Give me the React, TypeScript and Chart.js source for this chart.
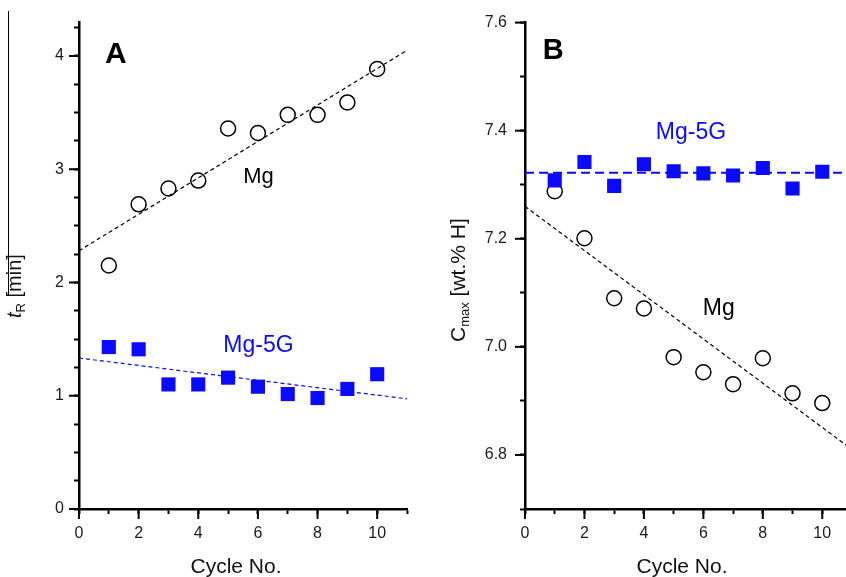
import React, { useEffect, useRef } from "react";
import { Chart, registerables } from "chart.js";
Chart.register(...registerables);

// ---------- data ----------
const cycles = [1, 2, 3, 4, 5, 6, 7, 8, 9, 10];
const tR_Mg = [2.15, 2.69, 2.83, 2.9, 3.36, 3.32, 3.48, 3.48, 3.59, 3.885];
const tR_Mg5G = [1.43, 1.41, 1.1, 1.1, 1.16, 1.08, 1.015, 0.98, 1.06, 1.19];
const cmax_Mg = [7.288, 7.201, 7.09, 7.071, 6.981, 6.953, 6.931, 6.979, 6.914, 6.896];
const cmax_Mg5G = [7.308, 7.342, 7.298, 7.338, 7.325, 7.321, 7.317, 7.331, 7.293, 7.324];
const fitX = [0, 11];
const fitA_Mg = [2.28, 4.05];
const fitA_Mg5G = [1.333, 0.973];
const fitB_Mg = [7.26, 6.81];
const fitB_Mg5G = [7.322, 7.322];
const xTickLabels = ["0", "2", "4", "6", "8", "10"];
const yTickLabelsA = ["0", "1", "2", "3", "4"];
const yTickLabelsB = ["6.8", "7.0", "7.2", "7.4", "7.6"];

const FONT = "'Liberation Sans', Arial, sans-serif";
const BLUE = "#0a0aff";
const H = 577;
const MINOR = 5;
const MAJOR = 10;

type Seg = { text: string; size: number; italic?: boolean; dy?: number };
type Ann = { text: string; x: number; y: number; size: number; bold?: boolean; color: string };

const pts = (xs: number[], ys: number[]) => xs.map((x, i) => ({ x, y: ys[i] }));

function textPlugin(anns: Ann[], title: { bx: number; sy: number; segs: Seg[] }, overline: boolean) {
  return {
    id: "texts",
    afterDraw(chart: any) {
      const { ctx, chartArea, scales } = chart;
      ctx.save();
      // longer major ticks
      ctx.strokeStyle = "#000";
      ctx.lineWidth = 2;
      for (const t of scales.x.ticks) {
        if (!t.label) continue;
        const px = scales.x.getPixelForValue(t.value);
        ctx.beginPath();
        ctx.moveTo(px, chartArea.bottom);
        ctx.lineTo(px, chartArea.bottom + MAJOR);
        ctx.stroke();
      }
      for (const t of scales.y.ticks) {
        if (!t.label) continue;
        const py = scales.y.getPixelForValue(t.value);
        ctx.beginPath();
        ctx.moveTo(chartArea.left, py);
        ctx.lineTo(chartArea.left - MAJOR, py);
        ctx.stroke();
      }
      // annotations
      for (const a of anns) {
        ctx.font = `${a.bold ? "bold " : ""}${a.size}px ${FONT}`;
        ctx.fillStyle = a.color;
        ctx.textAlign = "left";
        ctx.textBaseline = "alphabetic";
        ctx.fillText(a.text, scales.x.getPixelForValue(a.x), scales.y.getPixelForValue(a.y));
      }
      // x title
      ctx.font = `21px ${FONT}`;
      ctx.fillStyle = "#111";
      ctx.textAlign = "center";
      ctx.fillText("Cycle No.", chartArea.left + 157, 573);
      // y title rotated
      ctx.save();
      ctx.translate(title.bx, title.sy);
      ctx.rotate(-Math.PI / 2);
      ctx.textAlign = "left";
      let x = 0;
      for (const s of title.segs) {
        ctx.font = `${s.italic ? "italic " : ""}${s.size}px ${FONT}`;
        ctx.fillText(s.text, x, s.dy || 0);
        x += ctx.measureText(s.text).width;
      }
      ctx.restore();
      if (overline) {
        ctx.strokeStyle = "#000";
        ctx.lineWidth = 1;
        ctx.beginPath();
        ctx.moveTo(8.5, 11);
        ctx.lineTo(8.5, 296);
        ctx.stroke();
      }
      ctx.restore();
    },
  };
}

function makeConfig(p: {
  mg: number[];
  g5: number[];
  fitMg: number[];
  fitG5: number[];
  g5Dash: number[];
  g5Width: number;
  yMin: number;
  yMax: number;
  yStep: number;
  yLabels: string[];
  yWidth: number;
  yPad: number;
  anns: Ann[];
  title: { bx: number; sy: number; segs: Seg[] };
  overline: boolean;
}) {
  return {
    type: "scatter",
    data: {
      datasets: [
        {
          data: pts(cycles, p.g5),
          pointStyle: "rect",
          pointRadius: 10,
          backgroundColor: BLUE,
          borderColor: BLUE,
          borderWidth: 0,
          order: 0,
        },
        {
          data: pts(cycles, p.mg),
          pointStyle: "circle",
          pointRadius: 7.5,
          backgroundColor: "rgba(0,0,0,0)",
          borderColor: "#000",
          borderWidth: 1.5,
          order: 1,
        },
        {
          type: "line",
          data: pts(fitX, p.fitG5),
          borderColor: BLUE,
          borderWidth: p.g5Width,
          borderDash: p.g5Dash,
          pointRadius: 0,
          order: 2,
        },
        {
          type: "line",
          data: pts(fitX, p.fitMg),
          borderColor: "#000",
          borderWidth: 1.2,
          borderDash: [4, 3],
          pointRadius: 0,
          order: 3,
        },
      ],
    },
    options: {
      animation: false,
      responsive: false,
      layout: { padding: { left: 0, top: 22, right: 13, bottom: 0 } },
      plugins: { legend: { display: false }, tooltip: { enabled: false } },
      scales: {
        x: {
          type: "linear",
          min: 0,
          max: 11,
          afterFit: (s: any) => {
            s.height = H - 509;
          },
          ticks: {
            stepSize: 1,
            includeBounds: false,
            autoSkip: false,
            maxRotation: 0,
            padding: 10,
            color: "#1a1a1a",
            font: { family: FONT, size: 16 },
            callback: (v: number) => {
              const r = Math.round(v);
              return xTickLabels.includes(String(r)) ? String(r) : "";
            },
          },
          grid: {
            display: true,
            drawOnChartArea: false,
            drawTicks: true,
            tickLength: MINOR,
            tickWidth: 2,
            tickColor: "#000",
          },
          border: { display: true, color: "#000", width: 2.5 },
        },
        y: {
          type: "linear",
          min: p.yMin,
          max: p.yMax,
          afterFit: (s: any) => {
            s.width = p.yWidth;
          },
          ticks: {
            stepSize: p.yStep,
            includeBounds: false,
            autoSkip: false,
            padding: p.yPad,
            color: "#1a1a1a",
            font: { family: FONT, size: 16 },
            callback: (v: number) => {
              for (const l of p.yLabels) if (Math.abs(parseFloat(l) - v) < 1e-6) return l;
              return "";
            },
          },
          grid: {
            display: true,
            drawOnChartArea: false,
            drawTicks: true,
            tickLength: MINOR,
            tickWidth: 2,
            tickColor: "#000",
          },
          border: { display: true, color: "#000", width: 2.5 },
        },
      },
    },
    plugins: [textPlugin(p.anns, p.title, p.overline)],
  } as any;
}

function Panel(props: { width: number; left: number; cfg: any }) {
  const ref = useRef<HTMLCanvasElement>(null);
  useEffect(() => {
    const c = new Chart(ref.current as HTMLCanvasElement, props.cfg);
    return () => c.destroy();
  }, []);
  return (
    <canvas
      ref={ref}
      width={props.width}
      height={H}
      style={{ position: "absolute", left: props.left, top: 0, width: props.width, height: H }}
    />
  );
}

export default function App() {
  const cfgA = makeConfig({
    mg: tR_Mg,
    g5: tR_Mg5G,
    fitMg: fitA_Mg,
    fitG5: fitA_Mg5G,
    g5Dash: [4, 3],
    g5Width: 1.2,
    yMin: 0,
    yMax: 4.3,
    yStep: 0.25,
    yLabels: yTickLabelsA,
    yWidth: 79,
    yPad: 10,
    anns: [
      { text: "A", x: 0.87, y: 3.935, size: 30, bold: true, color: "#000" },
      { text: "Mg", x: 5.51, y: 2.882, size: 22, color: "#000" },
      { text: "Mg-5G", x: 4.84, y: 1.39, size: 23, color: BLUE },
    ],
    title: {
      bx: 21,
      sy: 318,
      segs: [
        { text: "t", size: 20, italic: true },
        { text: "R", size: 13, dy: 4 },
        { text: " [min]", size: 20 },
      ],
    },
    overline: true,
  });
  const cfgB = makeConfig({
    mg: cmax_Mg,
    g5: cmax_Mg5G,
    fitMg: fitB_Mg,
    fitG5: fitB_Mg5G,
    g5Dash: [9, 5],
    g5Width: 2,
    yMin: 6.7,
    yMax: 7.6,
    yStep: 0.1,
    yLabels: yTickLabelsB,
    yWidth: 105,
    yPad: 13,
    anns: [
      { text: "B", x: 0.6, y: 7.532, size: 29, bold: true, color: "#000" },
      { text: "Mg-5G", x: 4.4, y: 7.384, size: 23, color: BLUE },
      { text: "Mg", x: 5.98, y: 7.059, size: 23, color: "#000" },
    ],
    title: {
      bx: 45,
      sy: 342,
      segs: [
        { text: "C", size: 21 },
        { text: "max", size: 13, dy: 4 },
        { text: " [wt.% H]", size: 21 },
      ],
    },
    overline: false,
  });
  return (
    <div
      style={{
        position: "absolute",
        left: 0,
        top: 0,
        width: 846,
        height: H,
        overflow: "hidden",
        background: "#fff",
      }}
    >
      <Panel width={420} left={0} cfg={cfgA} />
      <Panel width={445} left={420} cfg={cfgB} />
    </div>
  );
}
